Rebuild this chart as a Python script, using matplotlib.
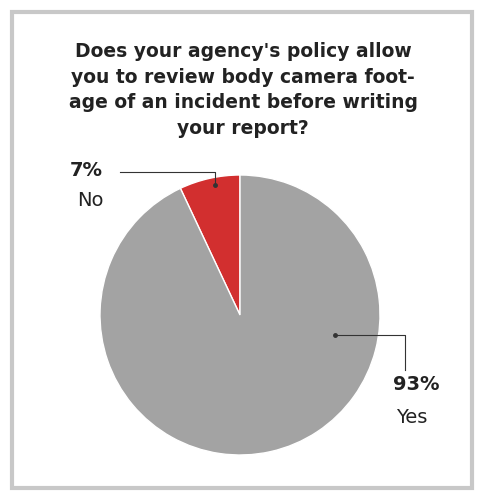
import matplotlib.pyplot as plt
from matplotlib.patches import Rectangle

labels = ["No", "Yes"]
shares = [7, 93]
colors = ["#d22f2f", "#a3a3a3"]

W, H = 486, 500
fig = plt.figure(figsize=(W / 100, H / 100), dpi=100)
fig.patches.append(Rectangle((12 / W, 12 / H), 460 / W, 476 / H, transform=fig.transFigure,
                             fill=False, edgecolor="#c8c8c8", linewidth=3))

fig.text(0.5, 1 - 90 / H,
         "Does your agency's policy allow\nyou to review body camera foot-\n"
         "age of an incident before writing\nyour report?",
         ha="center", va="center", fontsize=13.5, fontweight="bold",
         color="#222222", linespacing=1.45)

cx, cy, r = 240, 315, 140
ax = fig.add_axes([(cx - r) / W, 1 - (cy + r) / H, 2 * r / W, 2 * r / H])
ax.pie(shares, colors=colors, startangle=90, counterclock=True,
       wedgeprops=dict(edgecolor="white", linewidth=1))
ax.set_xlim(-1, 1)
ax.set_ylim(-1, 1)
ax.set_aspect("equal")
ax.axis("off")

# leader lines
ax.plot([-0.86, -0.18, -0.18], [1.02, 1.02, 0.93], color="#333333", lw=0.8, clip_on=False)
ax.plot([-0.18], [0.93], "o", color="#333333", ms=2.5, clip_on=False)
ax.plot([0.68, 1.18, 1.18], [-0.14, -0.14, -0.39], color="#333333", lw=0.8, clip_on=False)
ax.plot([0.68], [-0.14], "o", color="#333333", ms=2.5, clip_on=False)

ax.text(-1.1, 1.03, f"{shares[0]}%", fontsize=14, fontweight="bold", ha="center", va="center",
        color="#222222", clip_on=False)
ax.text(-1.07, 0.82, labels[0], fontsize=14, ha="center", va="center", color="#222222", clip_on=False)
ax.text(1.26, -0.5, f"{shares[1]}%", fontsize=14, fontweight="bold", ha="center", va="center",
        color="#222222", clip_on=False)
ax.text(1.23, -0.73, labels[1], fontsize=14, ha="center", va="center", color="#222222", clip_on=False)

fig.savefig("out.png", dpi=100)
